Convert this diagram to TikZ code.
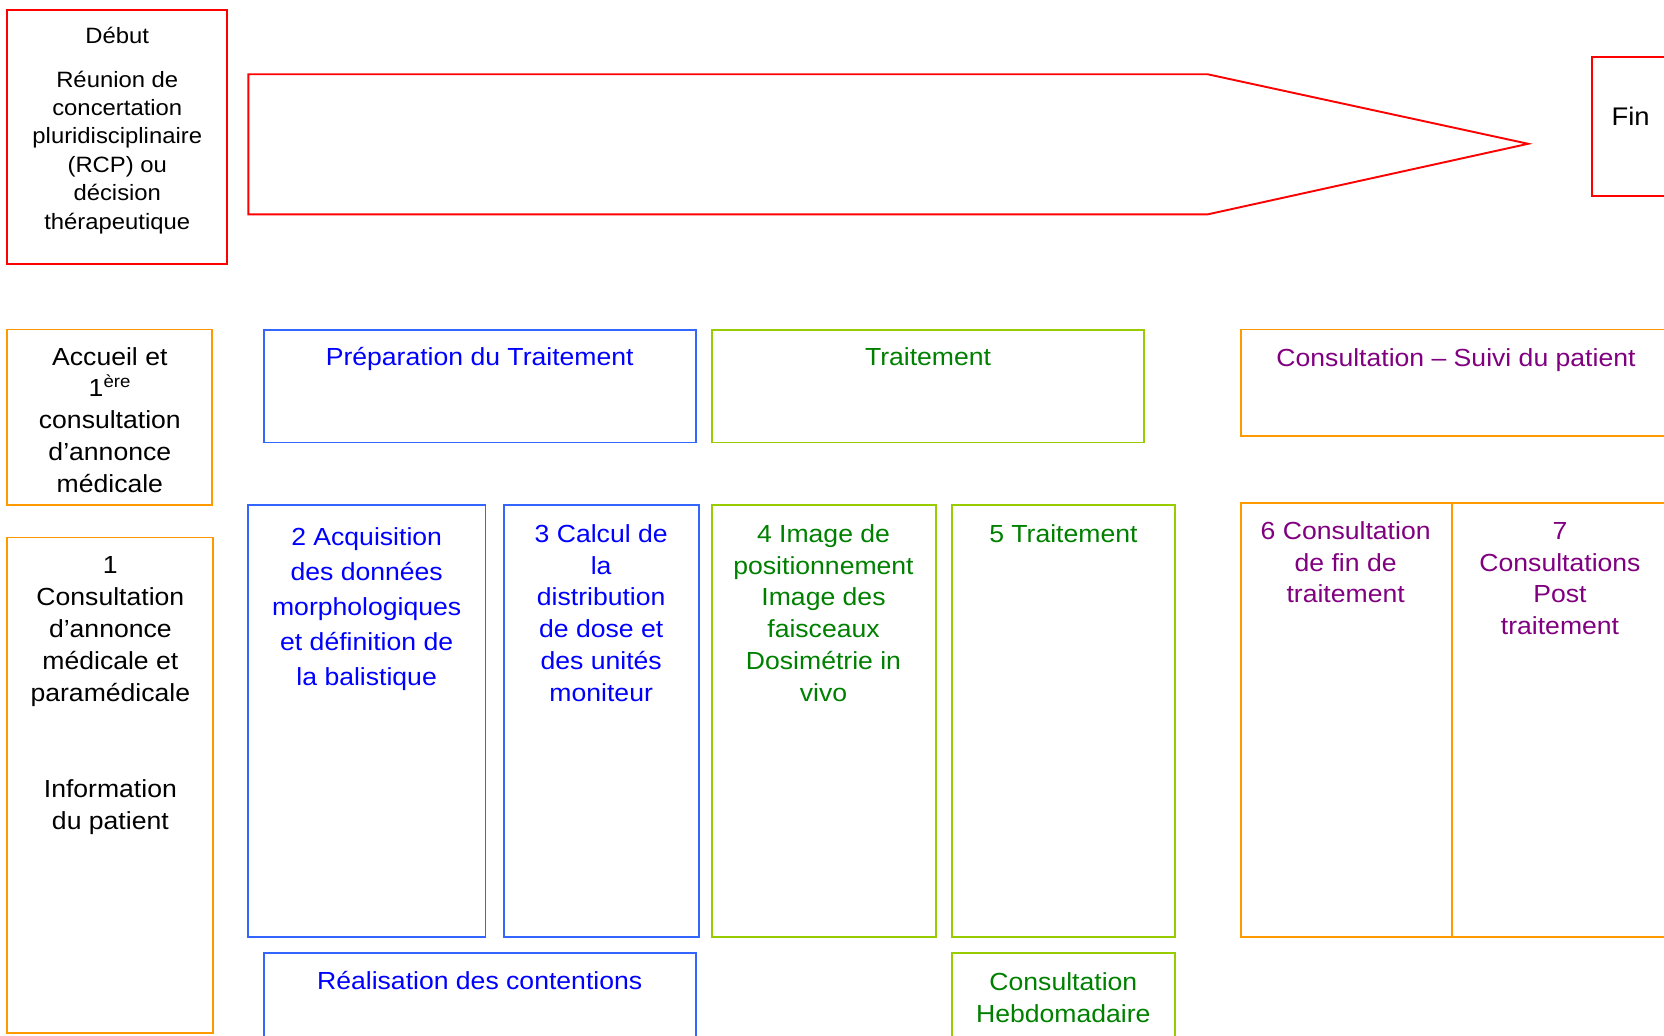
\documentclass[tikz,border=0pt]{standalone}
\usepackage{fontspec}
\setmainfont[FakeStretch=1.075]{Liberation Sans}
\usetikzlibrary{fit}
\definecolor{redc}{RGB}{255,0,0}
\definecolor{bluec}{RGB}{51,102,255}
\definecolor{greenc}{RGB}{153,204,0}
\definecolor{orangec}{RGB}{255,153,0}
\definecolor{bluet}{RGB}{0,0,255}
\definecolor{greent}{RGB}{0,128,0}
\definecolor{purplet}{RGB}{128,0,128}
\newcommand\ml[2][30pt]{\vtop{\baselineskip=#1\lineskiplimit=-20pt\halign{\hfil##\hfil\cr#2\crcr}}}
\newcommand\fmain{\fontsize{23.3}{30}\selectfont}
\newcommand\fdeb{\fontsize{20.9}{26.8}\selectfont}
\newcommand\ffin{\fontsize{24}{30}\selectfont}
\tikzset{
  box/.style={draw, line width=1.8pt, inner sep=0pt, outer sep=0pt},
  txt/.style={anchor=base, inner sep=0pt, outer sep=0pt, font=\fmain},
}
\begin{document}
\begin{tikzpicture}[x=1pt,y=-1pt]
\useasboundingbox (0,0) rectangle (1568,976);
\clip (0,0) rectangle (1568,976);
% top row
\node[box,draw=redc,fit={(7,9)(214,249)}] (debut) {};
\node[txt,font=\fdeb] (tdebut) at (110.5,40.8) {Début};
\node[txt,font=\fdeb] (treunion) at (110.5,82) {\ml[26.8pt]{Réunion de\cr concertation\cr pluridisciplinaire\cr (RCP) ou\cr décision\cr thérapeutique}};
\draw[redc,line width=1.8pt] (234,70) -- (1138,70) -- (1440,135.5) -- (1138,202) -- (234,202) -- cycle;
\node[box,draw=redc,fit={(1500,54)(1600,185)}] (fin) {};
\node[txt,font=\ffin] (tfin) at (1536.5,118.7) {Fin};
% second row
\node[box,draw=orangec,fit={(7,310.5)(199.5,476)}] (accueil) {};
\node[txt] (taccueil) at (103.5,344) {\ml{Accueil et\cr 1\textsuperscript{ère}\cr consultation\cr d’annonce\cr médicale}};
\node[box,draw=bluec,fit={(248.5,311)(656,417)}] (prep) {};
\node[txt,text=bluet] (tprep) at (452,344.6) {Préparation du Traitement};
\node[box,draw=greenc,fit={(671,311)(1078,417)}] (trait) {};
\node[txt,text=greent] (ttrait) at (874.5,344.6) {Traitement};
\node[box,draw=orangec,fit={(1169.5,310.5)(1600,410.5)}] (suivi) {};
\node[txt,text=purplet] (tsuivi) at (1372,345) {Consultation – Suivi du patient};
% third row
\node[box,draw=orangec,fit={(7,506.5)(201,973.5)}] (c1) {};
\node[txt] (tc1) at (104,540.3) {\ml[30.2pt]{1\cr Consultation\cr d’annonce\cr médicale et\cr paramédicale\cr\cr\cr Information\cr du patient}};
\node[box,draw=bluec,fit={(233.5,476)(457.5,883.3)}] (acq) {};
\node[txt,text=bluet] (tacq) at (345.5,514.2) {\ml[33pt]{2 Acquisition\cr des données\cr morphologiques\cr et définition de\cr la balistique}};
\node[box,draw=bluec,fit={(474.5,476)(659,883.3)}] (calc) {};
\node[txt,text=bluet] (tcalc) at (566.5,511.1) {\ml[29.9pt]{3 Calcul de\cr la\cr distribution\cr de dose et\cr des unités\cr moniteur}};
\node[box,draw=greenc,fit={(670.6,476)(882,883.3)}] (img) {};
\node[txt,text=greent] (timg) at (776,511.1) {\ml[29.9pt]{4 Image de\cr positionnement\cr Image des\cr faisceaux\cr Dosimétrie in\cr vivo}};
\node[box,draw=greenc,fit={(897,476)(1107.5,883.3)}] (t5) {};
\node[txt,text=greent] (tt5) at (1002,511.1) {5 Traitement};
\node[box,draw=orangec,fit={(1169,473.7)(1368,883.3)}] (c6) {};
\node[txt,text=purplet] (tc6) at (1268,508.2) {\ml{6 Consultation\cr de fin de\cr traitement}};
\node[box,draw=orangec,fit={(1368,473.7)(1600,883.3)}] (c7) {};
\node[txt,text=purplet] (tc7) at (1470,508.2) {\ml{7\cr Consultations\cr Post\cr traitement}};
% bottom row
\node[box,draw=bluec,fit={(248.5,897.8)(656,1000)}] (real) {};
\node[txt,text=bluet] (treal) at (452,932.3) {Réalisation des contentions};
\node[box,draw=greenc,fit={(897,897.8)(1107.5,1000)}] (hebdo) {};
\node[txt,text=greent] (thebdo) at (1002,933.6) {\ml[29.5pt]{Consultation\cr Hebdomadaire}};
\end{tikzpicture}
\end{document}
